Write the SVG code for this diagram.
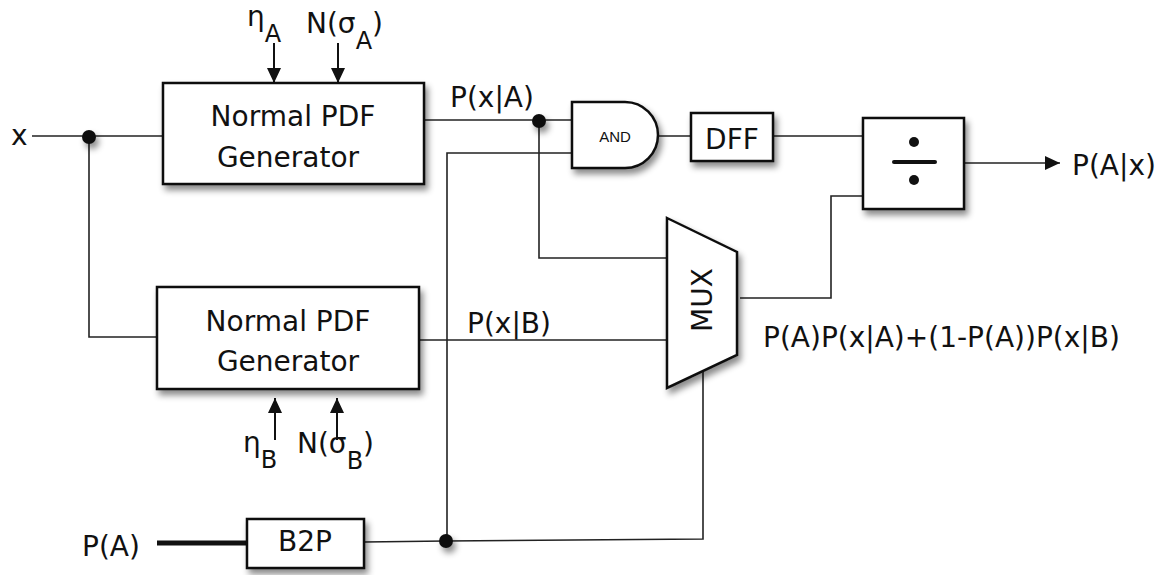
<svg xmlns="http://www.w3.org/2000/svg" width="1169" height="575" viewBox="0 0 1169 575">
<style>
.t{font-family:"DejaVu Sans","Liberation Sans",sans-serif;font-size:28px;fill:#111}
.sub{font-size:24px}
.box{fill:#fff;stroke:#111;stroke-width:2.5}
.w{fill:none;stroke:#222;stroke-width:1.6}
.a{fill:none;stroke:#111;stroke-width:2}
.dot{fill:#111}
</style>
<defs>
<filter id="sh" x="-20%" y="-20%" width="150%" height="160%">
<feDropShadow dx="3" dy="5" stdDeviation="3" flood-color="#000" flood-opacity="0.45"/>
</filter>
<marker id="ah" viewBox="0 0 10 10" refX="10" refY="5" markerWidth="15" markerHeight="14" markerUnits="userSpaceOnUse" orient="auto" preserveAspectRatio="none">
<path d="M0,0 L10,5 L0,10 Z" fill="#111"/>
</marker>
</defs>
<rect width="1169" height="575" fill="#fff"/>

<g id="connectors">
<path class="w" d="M32,136 H163"/>
<path class="w" d="M89,136 V337 H157"/>
<path class="w" d="M424,120 H572"/>
<path class="w" d="M539,120 V258 H667"/>
<path class="w" d="M419,340 H667"/>
<path class="w" d="M572,153 H447 V541"/>
<path class="w" d="M658,136 H691"/>
<path class="w" d="M773,136 H863"/>
<path class="w" d="M740,298 H831 V196 H863"/>
<path class="w" d="M964,163 H1060" marker-end="url(#ah)"/>
<path class="w" d="M364,542 L446,541 L703,539 V371"/>
<path d="M157,543 H247" stroke="#111" stroke-width="5" fill="none"/>
<path class="a" d="M274,43 V83" marker-end="url(#ah)"/>
<path class="a" d="M338,43 V83" marker-end="url(#ah)"/>
<path class="a" d="M275,440 V398" marker-end="url(#ah)"/>
<path class="a" d="M337,440 V398" marker-end="url(#ah)"/>
<g filter="url(#sh)">
<circle class="dot" cx="89" cy="137" r="7"/>
<circle class="dot" cx="539" cy="121" r="7"/>
<circle class="dot" cx="446" cy="541" r="7"/>
</g>
</g>

<g id="pdfA">
<rect class="box" x="163" y="83" width="261" height="101" filter="url(#sh)"/>
<text class="t" x="293" y="126" text-anchor="middle">Normal PDF</text>
<text class="t" x="288" y="167" text-anchor="middle">Generator</text>
</g>

<g id="pdfB">
<rect class="box" x="157" y="287" width="262" height="102" filter="url(#sh)"/>
<text class="t" x="288" y="331" text-anchor="middle">Normal PDF</text>
<text class="t" x="288" y="371" text-anchor="middle">Generator</text>
</g>

<g id="and">
<path class="box" d="M572,102 H625 A33,33 0 0 1 625,168 H572 Z" filter="url(#sh)"/>
<text x="615" y="142" text-anchor="middle" font-family="Liberation Sans,sans-serif" font-size="15" fill="#111">AND</text>
</g>

<g id="dff">
<rect class="box" x="691" y="113" width="82" height="48" filter="url(#sh)"/>
<text class="t" x="732" y="149" text-anchor="middle" font-size="26">DFF</text>
</g>

<g id="div">
<rect class="box" x="863" y="118" width="101" height="91" filter="url(#sh)"/>
<circle class="dot" cx="914" cy="142" r="5"/>
<circle class="dot" cx="914" cy="180" r="5"/>
<rect x="892" y="160" width="45" height="4" rx="2" fill="#111"/>
</g>

<g id="mux">
<path class="box" d="M667,218 L737,252 L737,355 L667,388 Z" filter="url(#sh)"/>
<text class="t" transform="translate(712,300) rotate(-90)" text-anchor="middle">MUX</text>
</g>

<g id="b2p">
<rect class="box" x="247" y="519" width="117" height="49" filter="url(#sh)"/>
<text class="t" x="305" y="551" text-anchor="middle" font-size="26">B2P</text>
</g>

<g id="labels">
<text class="t" x="11" y="145" font-size="26">x</text>
<text class="t" x="247" y="26" font-size="30">η<tspan class="sub" dy="16">A</tspan></text>
<text class="t" x="306" y="33">N(σ<tspan class="sub" dy="16">A</tspan><tspan dy="-16">)</tspan></text>
<text class="t" x="243" y="452" font-size="30">η<tspan class="sub" dy="16">B</tspan></text>
<text class="t" x="297" y="453">N(σ<tspan class="sub" dy="16">B</tspan><tspan dy="-16">)</tspan></text>
<text class="t" x="450" y="107">P(x|A)</text>
<text class="t" x="467" y="333">P(x|B)</text>
<text class="t" x="1072" y="175">P(A|x)</text>
<text class="t" x="763" y="347">P(A)P(x|A)+(1-P(A))P(x|B)</text>
<text class="t" x="82" y="556">P(A)</text>
</g>
</svg>
